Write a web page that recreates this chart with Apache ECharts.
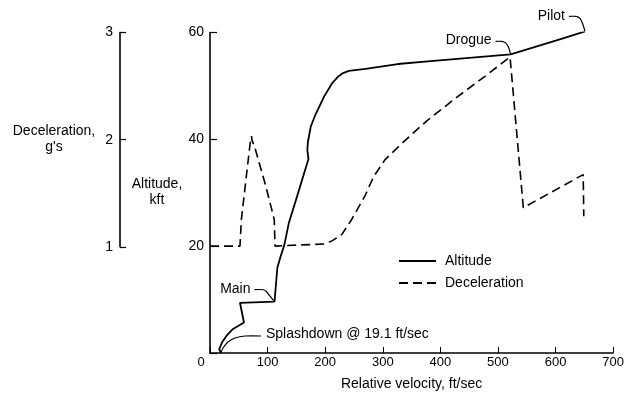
<!DOCTYPE html>
<html>
<head>
<meta charset="utf-8">
<script src="https://cdn.jsdelivr.net/npm/echarts@6/dist/echarts.min.js"></script>
<style>
  html, body { margin: 0; padding: 0; background: #fff; }
  #chart { width: 627px; height: 396px; }
</style>
</head>
<body>
<div id="chart"></div>
<script>
// Altitude (kft) vs relative velocity (ft/sec), from splashdown up to pilot chute
const altitudeCurve = [
  [19.1, 0], [16, 0.7], [21, 2.0], [30, 3.4], [40, 4.5], [59, 5.7],
  [52, 9.4], [112, 9.6], [117, 16.0], [123, 18.2], [129, 20.2], [137, 24.4],
  [152, 29.6], [163, 33.5], [171, 36.3], [169, 38.0], [170, 39.5], [175, 42.4],
  [183, 44.6], [198, 48.0], [212, 50.5], [222, 51.7], [231, 52.4], [241, 52.8],
  [270, 53.2], [326, 54.1], [378, 54.6], [522, 55.9], [613, 58.9], [651, 60.2]
];

// Deceleration (g) vs relative velocity (ft/sec)
const decelCurve = [
  [0, 1.0], [52, 1.0], [54.5, 1.25], [63, 1.65], [70.5, 2.0], [72, 2.03], [73, 1.99],
  [77.5, 1.93], [97, 1.56], [111.5, 1.25], [113, 1.0], [150, 1.01], [200, 1.02],
  [212, 1.05], [229, 1.11], [246, 1.25], [269, 1.47], [284, 1.65], [304, 1.81],
  [327, 1.93], [355, 2.07], [378, 2.18], [430, 2.40], [475, 2.58], [521, 2.77],
  [544, 1.36], [648, 1.67], [649, 1.28]
];

// Parachute events marked on the altitude trace
const eventNames = ['Pilot', 'Drogue', 'Main', 'Splashdown @ 19.1 ft/sec'];
const eventVelocity = [651, 522, 112, 19.1];
const eventAltitude = [60.2, 55.9, 9.6, 0];

// Axis ranges
const velocityRange = [0, 700, 100];
const altitudeRange = [0, 60, 20];
const decelRange = [1, 3, 1];

const FONT = '"Liberation Sans", Arial, Helvetica, sans-serif';
const INK = '#000';

const chart = echarts.init(document.getElementById('chart'), null, { renderer: 'canvas' });

const axisLineStyle = { color: INK, width: 1.6 };

chart.setOption({
  backgroundColor: '#fff',
  animation: false,
  grid: [
    { left: 210, top: 32.5, width: 407, height: 321.5 },
    { left: 120, top: 32.5, width: 10, height: 214.3 }
  ],
  xAxis: [
    {
      type: 'value', gridIndex: 0,
      min: velocityRange[0], max: velocityRange[1], interval: velocityRange[2],
      axisLine: { show: true, onZero: false, lineStyle: axisLineStyle },
      axisTick: { show: true, inside: true, length: 6, lineStyle: { color: INK, width: 1 } },
      splitLine: { show: false },
      axisLabel: {
        color: INK, fontFamily: FONT, fontSize: 13, margin: 3,
        formatter: v => (v === 0 ? '{z|0}' : String(v)),
        rich: { z: { fontFamily: FONT, fontSize: 13, color: INK, padding: [0, 18, 0, 0] } }
      },
      name: 'Relative velocity, ft/sec',
      nameLocation: 'middle', nameGap: 24,
      nameTextStyle: { color: INK, fontFamily: FONT, fontSize: 14 }
    },
    { type: 'value', gridIndex: 1, show: false, min: 0, max: 1 }
  ],
  yAxis: [
    {
      type: 'value', gridIndex: 0,
      min: altitudeRange[0], max: altitudeRange[1], interval: altitudeRange[2],
      axisLine: { show: true, onZero: false, lineStyle: axisLineStyle },
      axisTick: { show: true, inside: true, length: 7, lineStyle: { color: INK, width: 1.2 } },
      splitLine: { show: false },
      axisLabel: {
        color: INK, fontFamily: FONT, fontSize: 14, margin: 6,
        formatter: v => (v === 0 ? '' : String(v))
      }
    },
    { type: 'value', gridIndex: 0, show: false, min: 0, max: 3 },
    {
      type: 'value', gridIndex: 1,
      min: decelRange[0], max: decelRange[1], interval: decelRange[2],
      axisLine: { show: true, lineStyle: axisLineStyle },
      axisTick: { show: true, inside: true, length: 6, lineStyle: { color: INK, width: 1.2 } },
      splitLine: { show: false },
      axisLabel: { color: INK, fontFamily: FONT, fontSize: 14, margin: 7 }
    }
  ],
  legend: {
    orient: 'vertical', left: 398, top: 254, padding: 0,
    itemWidth: 37, itemHeight: 14, itemGap: 8,
    itemStyle: { color: 'transparent', borderWidth: 0, opacity: 0 },
    textStyle: { color: INK, fontFamily: FONT, fontSize: 14, padding: [0, 0, 0, 4] },
    data: ['Altitude', 'Deceleration']
  },
  series: [
    {
      name: 'Altitude', type: 'line', xAxisIndex: 0, yAxisIndex: 0,
      data: altitudeCurve, symbol: 'none', smooth: false,
      lineStyle: { color: INK, width: 1.8, type: 'solid' },
      itemStyle: { color: INK }
    },
    {
      name: 'Deceleration', type: 'line', xAxisIndex: 0, yAxisIndex: 1,
      data: decelCurve, symbol: 'none', smooth: false,
      lineStyle: { color: INK, width: 1.6, type: [9, 5] },
      itemStyle: { color: INK }
    }
  ]
});

// Leader-line callouts for the parachute events, anchored to their data points
const leaders = [
  // Pilot
  { pts: [[0, 0], [-2, -7], [-5, -13], [-9, -15], [-16, -15]], text: { dx: -20, dy: -15, align: 'right' } },
  // Drogue
  { pts: [[0, 0], [-2, -7], [-5, -11.5], [-9, -13], [-15, -13]], text: { dx: -19, dy: -14, align: 'right' } },
  // Main
  { pts: [[0, 0], [-4, -5], [-8, -10], [-11, -12], [-20, -12]], text: { dx: -24, dy: -13, align: 'right' } },
  // Splashdown
  { pts: [[0, 0], [2, -5], [7, -11], [14, -15], [24, -17], [40, -17]], text: { dx: 45, dy: -19, align: 'left' } }
];

const graphics = [];
eventNames.forEach((name, i) => {
  const p = chart.convertToPixel({ xAxisIndex: 0, yAxisIndex: 0 }, [eventVelocity[i], eventAltitude[i]]);
  const L = leaders[i];
  graphics.push({
    type: 'polyline',
    shape: { points: L.pts.map(q => [p[0] + q[0], p[1] + q[1]]), smooth: 0.3 },
    style: { stroke: INK, lineWidth: 1.2, fill: null },
    silent: true
  });
  graphics.push({
    type: 'text',
    x: p[0] + L.text.dx, y: p[1] + L.text.dy,
    style: {
      text: name, fill: INK, font: '14px ' + FONT,
      textAlign: L.text.align, textVerticalAlign: 'middle'
    },
    silent: true
  });
});

// Axis titles for the two vertical scales
graphics.push({
  type: 'text', x: 54, y: 139,
  style: { text: 'Deceleration,\ng\'s', fill: INK, font: '14px ' + FONT,
    textAlign: 'center', textVerticalAlign: 'middle', lineHeight: 16 },
  silent: true
});
graphics.push({
  type: 'text', x: 157, y: 192,
  style: { text: 'Altitude,\nkft', fill: INK, font: '14px ' + FONT,
    textAlign: 'center', textVerticalAlign: 'middle', lineHeight: 16 },
  silent: true
});

chart.setOption({ graphic: graphics });
</script>
</body>
</html>
